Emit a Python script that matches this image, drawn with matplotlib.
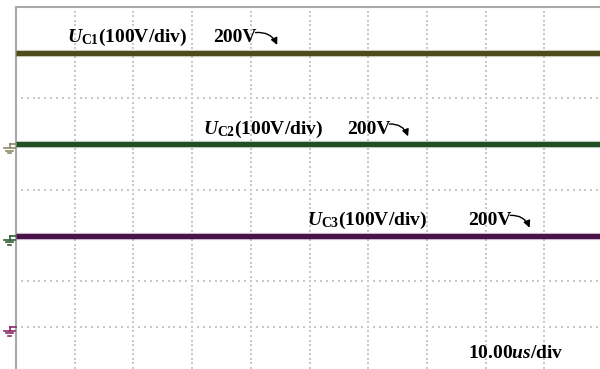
import numpy as np
import matplotlib
matplotlib.use('Agg')
import matplotlib.pyplot as plt
from matplotlib.lines import Line2D
from matplotlib.transforms import IdentityTransform

plt.rcParams['font.family'] = 'Liberation Serif'
plt.rcParams['font.weight'] = 'bold'
plt.rcParams['mathtext.fontset'] = 'custom'
plt.rcParams['mathtext.rm'] = 'Liberation Serif:bold'
plt.rcParams['mathtext.it'] = 'Liberation Serif:italic:bold'
plt.rcParams['mathtext.bf'] = 'Liberation Serif:bold'

# scope settings
t_div = 10.0        # us/div
v_div = 100.0       # V/div
n_xdiv, n_ydiv = 10, 8

# channels
names = [r'$U_{\mathrm{C1}}$', r'$U_{\mathrm{C2}}$', r'$U_{\mathrm{C3}}$']
volts = [200, 200, 200]
ground_div = [1.0, -1.0, -3.0]          # ground marker level of each channel
colors = ['#4f4c1c', '#1f4f22', '#4b1149']
marker_colors = ['#8a8a6a', '#2f5f32', '#8a2a6a']
label_x = [0.87, 3.18, 4.96]            # label start, in divisions
value_x = [3.36, 5.64, 7.70]            # "200V" start, in divisions
arrow_tip_x = [4.45, 6.68, 8.75]

t = np.array([0.0, n_xdiv * t_div])

fig = plt.figure(figsize=(6, 3.69), dpi=100)
ax = fig.add_axes([16 / 600, -3.6 / 369, 587 / 600, 365.6 / 369])
ax.set_xlim(0, n_xdiv)
ax.set_ylim(-n_ydiv / 2, n_ydiv / 2)
ax.set_xticks([])
ax.set_yticks([])
for s in ['right', 'bottom']:
    ax.spines[s].set_visible(False)
for s in ['left', 'top']:
    ax.spines[s].set_color('#a8a8a8')
    ax.spines[s].set_linewidth(1.5)

# dotted graticule (10 dots per division)
grid_col = '#c8c8c8'
ys = np.arange(-40, 41) / 10.0
for gx in range(1, n_xdiv):
    ax.scatter(np.full(ys.shape, gx), ys, s=1.1, c=grid_col, marker='s', linewidths=0)
xs = np.arange(0, 10 * n_xdiv + 1) / 10.0
for gy in range(-3, 4):
    ax.scatter(xs, np.full(xs.shape, gy), s=1.1, c=grid_col, marker='s', linewidths=0)

# traces
for i in range(3):
    level = ground_div[i] + volts[i] / v_div
    ax.plot(t / t_div, [level, level], color=colors[i], lw=3.6, solid_capstyle='butt', zorder=3)
    ax.plot(t / t_div, [level, level], color=colors[i], lw=5.2, alpha=0.3, solid_capstyle='butt', zorder=3)
    ax.text(label_x[i], level + 0.23, names[i] + '(100V/div)', fontsize=14,
            fontweight='bold', ha='left', va='baseline', zorder=4)
    ax.text(value_x[i], level + 0.23, '%dV' % volts[i], fontsize=14,
            fontweight='bold', ha='left', va='baseline', zorder=4)
    ax.annotate('', xy=(arrow_tip_x[i], level + 0.17), xytext=(value_x[i] + 0.72, level + 0.44),
                arrowprops=dict(arrowstyle='-|>,head_length=0.4,head_width=0.2', color='black',
                                lw=1.0, connectionstyle='arc3,rad=-0.35', shrinkA=0, shrinkB=0),
                zorder=4)

ax.text(7.70, -3.67, '10.00$\\mathit{us}$/div', fontsize=14, fontweight='bold',
        ha='left', va='baseline')

# ground markers left of the frame
fig.canvas.draw()
for i in range(3):
    x0, y0 = ax.transData.transform((0, ground_div[i]))
    c = marker_colors[i]
    segs = [([x0, x0 - 6], [y0, y0]), ([x0 - 6, x0 - 6], [y0, y0 - 4]),
            ([x0 - 12, x0 - 1], [y0 - 4, y0 - 4]), ([x0 - 10, x0 - 3], [y0 - 6.5, y0 - 6.5]),
            ([x0 - 8, x0 - 5], [y0 - 9, y0 - 9])]
    for sx, sy in segs:
        fig.add_artist(Line2D(sx, sy, transform=IdentityTransform(), color=c, lw=1.2))

fig.savefig('out.png', dpi=100)
